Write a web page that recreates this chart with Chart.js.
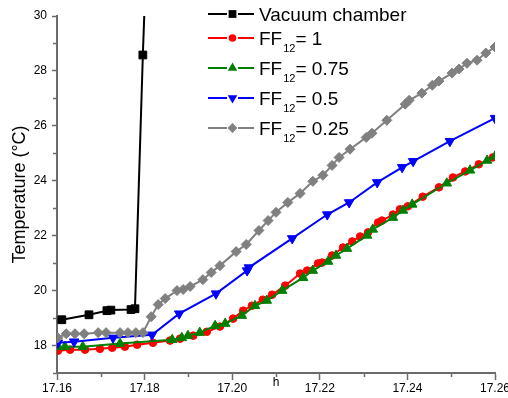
<!DOCTYPE html>
<html>
<head>
<meta charset="utf-8">
<script src="https://cdn.jsdelivr.net/npm/chart.js@4/dist/chart.umd.min.js"></script>
<style>
  html, body { margin: 0; padding: 0; background: #fff; }
</style>
</head>
<body>
<canvas id="chart" width="508" height="398"></canvas>
<script>
// axis ticks
let xTicks = [17.16, 17.18, 17.20, 17.22, 17.24, 17.26];
let yTicks = [18, 20, 22, 24, 26, 28, 30];

// time (h) and temperature (°C) per series
let vacuumTime = [17.1611, 17.1673, 17.1714, 17.1723, 17.1769, 17.1778, 17.1796, 17.1805];
let vacuumTemp = [18.94, 19.12, 19.27, 19.29, 19.31, 19.34, 28.58, 32.6];

let ff1Time = [17.1602, 17.1630, 17.1664, 17.1698, 17.1726, 17.1755, 17.1783, 17.1819, 17.1858, 17.1881,
    17.1911, 17.1942, 17.1972, 17.2002, 17.2025, 17.2045, 17.2070, 17.2091, 17.2121, 17.2155,
    17.2171, 17.2196, 17.2205, 17.2228, 17.2253, 17.2274, 17.2292, 17.2310, 17.2333, 17.2342,
    17.2367, 17.2383, 17.2401, 17.2435, 17.2472, 17.2504, 17.2532, 17.2563, 17.2595];
let ff1Temp = [17.81, 17.85, 17.85, 17.88, 17.92, 17.96, 18.03, 18.10, 18.18, 18.25,
    18.36, 18.50, 18.69, 18.98, 19.27, 19.45, 19.67, 19.85, 20.18, 20.62,
    20.73, 20.99, 21.02, 21.28, 21.57, 21.79, 21.97, 22.12, 22.48, 22.55,
    22.77, 22.96, 23.07, 23.42, 23.76, 24.12, 24.34, 24.60, 24.85];

let ff075Time = [17.1602, 17.1618, 17.1659, 17.1744, 17.1863, 17.1885, 17.1899, 17.1926, 17.1961, 17.1984,
    17.2022, 17.2052, 17.2079, 17.2114, 17.2162, 17.2184, 17.2219, 17.2237, 17.2262, 17.2308,
    17.2321, 17.2367, 17.2390, 17.2411, 17.2490, 17.2543, 17.2582, 17.2600];
let ff075Temp = [17.96, 17.96, 17.96, 18.07, 18.21, 18.28, 18.36, 18.47, 18.72, 18.80,
    19.09, 19.45, 19.64, 20.00, 20.47, 20.73, 21.06, 21.28, 21.53, 22.01,
    22.23, 22.66, 22.92, 23.14, 23.91, 24.38, 24.74, 24.89];

let ff05Time = [17.1602, 17.1639, 17.1728, 17.1817, 17.1879, 17.1963, 17.2034, 17.2038, 17.2137, 17.2217,
    17.2267, 17.2331, 17.2388, 17.2413, 17.2497, 17.2600];
let ff05Temp = [18.10, 18.14, 18.28, 18.39, 19.16, 19.89, 20.73, 20.84, 21.90, 22.77,
    23.21, 23.94, 24.49, 24.71, 25.44, 26.28];

let ff025Time = [17.1602, 17.1621, 17.1641, 17.1662, 17.1694, 17.1712, 17.1744, 17.1762, 17.1780, 17.1796,
    17.1815, 17.1831, 17.1847, 17.1874, 17.1888, 17.1904, 17.1933, 17.1952, 17.1972, 17.2009,
    17.2032, 17.2061, 17.2082, 17.2100, 17.2127, 17.2155, 17.2184, 17.2207, 17.2228, 17.2244,
    17.2269, 17.2306, 17.2319, 17.2353, 17.2395, 17.2404, 17.2433, 17.2457, 17.2472, 17.2502,
    17.2518, 17.2536, 17.2559, 17.2579, 17.2600];
let ff025Temp = [18.28, 18.43, 18.43, 18.43, 18.47, 18.47, 18.47, 18.47, 18.47, 18.47,
    19.05, 19.49, 19.71, 20.00, 20.04, 20.15, 20.40, 20.66, 20.91, 21.42,
    21.68, 22.19, 22.55, 22.85, 23.21, 23.54, 23.98, 24.20, 24.56, 24.85,
    25.15, 25.58, 25.73, 26.20, 26.79, 26.93, 27.19, 27.48, 27.63, 27.92,
    28.07, 28.28, 28.39, 28.65, 28.87];

// legend text: [main, subscript, rest]
let legendLabels = [
    ['Vacuum chamber'],
    ['FF', '12', '= 1'],
    ['FF', '12', '= 0.75'],
    ['FF', '12', '= 0.5'],
    ['FF', '12', '= 0.25']
];

let axisColor = '#6b6b6b';
let fontFamily = '"Liberation Sans", Arial, sans-serif';

function toPoints(xs, ys) {
    return xs.map((x, i) => ({ x: x, y: ys[i] }));
}

function makeDataset(xs, ys, color, style, radius, rotation, order) {
    return {
        data: toPoints(xs, ys),
        borderColor: color,
        backgroundColor: color,
        borderWidth: 2,
        pointStyle: style,
        pointRadius: radius,
        pointRotation: rotation,
        pointBorderWidth: 1,
        tension: 0,
        order: order
    };
}

let datasets = [
    makeDataset(vacuumTime, vacuumTemp, '#000000', 'rect', 5.5, 0, 5),
    makeDataset(ff1Time, ff1Temp, '#ff0000', 'circle', 3.8, 0, 4),
    makeDataset(ff075Time, ff075Temp, '#008000', 'triangle', 5.5, 0, 3),
    makeDataset(ff05Time, ff05Temp, '#0000ff', 'triangle', 5.5, 180, 2),
    makeDataset(ff025Time, ff025Temp, '#808080', 'rectRot', 5, 0, 1)
];

// short minor ticks halfway between the labelled ones
let minorTicksPlugin = {
    id: 'minorTicks',
    afterDraw(chart) {
        let ctx = chart.ctx;
        let xs = chart.scales.x;
        let ys = chart.scales.y;
        ctx.save();
        ctx.strokeStyle = axisColor;
        ctx.lineWidth = 1.5;
        ctx.beginPath();
        for (let i = 0; i < xTicks.length - 1; i++) {
            let px = Math.round(xs.getPixelForValue((xTicks[i] + xTicks[i + 1]) / 2)) + 0.5;
            ctx.moveTo(px, xs.top);
            ctx.lineTo(px, xs.top + 4);
        }
        let yMinor = [17];
        for (let i = 0; i < yTicks.length - 1; i++) {
            yMinor.push((yTicks[i] + yTicks[i + 1]) / 2);
        }
        yMinor.forEach(v => {
            let py = Math.round(ys.getPixelForValue(v)) + 0.5;
            ctx.moveTo(ys.right, py);
            ctx.lineTo(ys.right - 4, py);
        });
        ctx.stroke();
        ctx.restore();
    }
};

function drawMarker(ctx, ds, x, y) {
    let r = ds.pointRadius;
    ctx.fillStyle = ds.backgroundColor;
    ctx.beginPath();
    if (ds.pointStyle === 'rect') {
        let s = r * Math.SQRT1_2;
        ctx.rect(x - s, y - s, 2 * s, 2 * s);
    } else if (ds.pointStyle === 'circle') {
        ctx.arc(x, y, r, 0, Math.PI * 2);
    } else if (ds.pointStyle === 'rectRot') {
        ctx.moveTo(x - r, y);
        ctx.lineTo(x, y - r);
        ctx.lineTo(x + r, y);
        ctx.lineTo(x, y + r);
    } else if (ds.pointStyle === 'triangle') {
        let dir = ds.pointRotation === 180 ? -1 : 1;
        ctx.moveTo(x, y - dir * r);
        ctx.lineTo(x - r * 0.87, y + dir * r * 0.5);
        ctx.lineTo(x + r * 0.87, y + dir * r * 0.5);
    }
    ctx.closePath();
    ctx.fill();
}

// legend with line-marker-line samples and subscript text
let legendPlugin = {
    id: 'customLegend',
    afterDraw(chart) {
        let ctx = chart.ctx;
        let rows = [14, 38, 68, 98, 128];
        ctx.save();
        legendLabels.forEach((parts, i) => {
            let ds = chart.data.datasets[i];
            let y = rows[i];
            ctx.strokeStyle = ds.borderColor;
            ctx.lineWidth = 2;
            ctx.beginPath();
            ctx.moveTo(208, y);
            ctx.lineTo(227, y);
            ctx.moveTo(238, y);
            ctx.lineTo(254, y);
            ctx.stroke();
            drawMarker(ctx, ds, 232.5, y);

            ctx.fillStyle = '#000';
            ctx.textBaseline = 'alphabetic';
            ctx.textAlign = 'left';
            let x = 259;
            ctx.font = '19px ' + fontFamily;
            ctx.fillText(parts[0], x, y + 7);
            if (parts.length > 1) {
                x += ctx.measureText(parts[0]).width;
                ctx.font = '11px ' + fontFamily;
                ctx.fillText(parts[1], x + 1, y + 14);
                x += ctx.measureText(parts[1]).width + 1;
                ctx.font = '19px ' + fontFamily;
                ctx.fillText(parts[2], x, y + 7);
            }
        });
        ctx.restore();
    }
};

let ctx = document.getElementById('chart').getContext('2d');
let chartInstance = new Chart(ctx, {
    type: 'line',
    data: { datasets: datasets },
    options: {
        responsive: false,
        animation: false,
        layout: { padding: { left: 0, top: 16, right: 13, bottom: 0 } },
        plugins: {
            legend: { display: false },
            tooltip: { enabled: false }
        },
        scales: {
            x: {
                type: 'linear',
                min: 17.16,
                max: 17.26,
                afterBuildTicks: scale => { scale.ticks = xTicks.map(v => ({ value: v })); },
                afterFit: scale => {
                    scale.height = 25;
                    scale.paddingLeft = 0;
                    scale.paddingRight = 0;
                },
                border: { display: true, color: axisColor, width: 2 },
                grid: { drawOnChartArea: false, drawTicks: true, tickLength: 7, tickColor: axisColor, tickWidth: 1.5 },
                ticks: {
                    autoSkip: false,
                    maxRotation: 0,
                    padding: 1,
                    color: '#000',
                    font: { family: fontFamily, size: 12 },
                    callback: v => v.toFixed(2)
                },
                title: {
                    display: true,
                    text: 'h',
                    color: '#000',
                    font: { family: fontFamily, size: 12 },
                    padding: { top: 0, bottom: 8 }
                }
            },
            y: {
                min: 17,
                max: 30,
                afterBuildTicks: scale => { scale.ticks = yTicks.map(v => ({ value: v })); },
                afterFit: scale => {
                    scale.width = 57;
                    scale.paddingTop = 0;
                    scale.paddingBottom = 0;
                },
                border: { display: true, color: axisColor, width: 2 },
                grid: { drawOnChartArea: false, drawTicks: true, tickLength: 5, tickColor: axisColor, tickWidth: 1.5 },
                ticks: {
                    padding: 5,
                    color: '#000',
                    font: { family: fontFamily, size: 12 },
                    callback: v => String(v)
                },
                title: {
                    display: true,
                    text: 'Temperature (°C)',
                    color: '#000',
                    font: { family: fontFamily, size: 18 },
                    padding: { top: 9, bottom: 0 }
                }
            }
        }
    },
    plugins: [minorTicksPlugin, legendPlugin]
});
</script>
</body>
</html>
